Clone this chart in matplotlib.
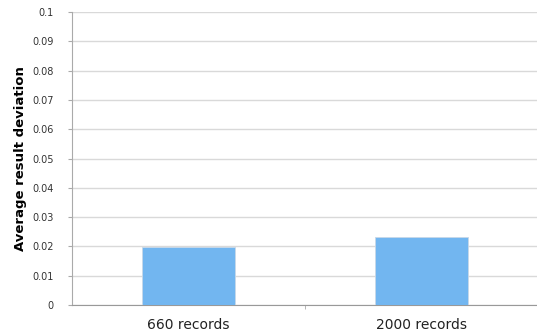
import numpy as np
import matplotlib.pyplot as plt

# Data
categories = ["660 records", "2000 records"]
deviation = [0.0199, 0.0232]
y_ticks = [0, 0.01, 0.02, 0.03, 0.04, 0.05, 0.06, 0.07, 0.08, 0.09, 0.1]
y_tick_labels = ["0", "0.01", "0.02", "0.03", "0.04", "0.05", "0.06", "0.07", "0.08", "0.09", "0.1"]

fig = plt.figure(figsize=(5.37, 3.33), dpi=100)
ax = fig.add_axes([0.134, 0.084, 0.868, 0.88])

x = np.arange(len(categories))
ax.bar(x, deviation, width=0.4, color="#72b6f0", edgecolor="#c8d8e8", linewidth=0.6, zorder=3)

ax.set_xlim(-0.5, 1.5)
ax.set_ylim(0, 0.1)
ax.set_yticks(y_ticks)
ax.set_yticklabels(y_tick_labels, fontsize=7, color="#333333")
ax.set_xticks(x)
ax.set_xticklabels(categories, fontsize=10, color="#222222")
ax.tick_params(axis="x", length=0, pad=9)
ax.set_xticks([0.5], minor=True)
ax.tick_params(axis="x", which="minor", length=3, color="#aaaaaa")
ax.tick_params(axis="y", length=3, color="#aaaaaa", pad=10)

ax.grid(axis="y", color="#d9d9d9", linewidth=1, zorder=0)
for s in ["top", "right"]:
    ax.spines[s].set_visible(False)
ax.spines["left"].set_color("#aaaaaa")
ax.spines["bottom"].set_color("#999999")

ax.set_ylabel("Average result deviation", fontsize=9.5, fontweight="bold", labelpad=4)

fig.savefig("out.png", dpi=100)
